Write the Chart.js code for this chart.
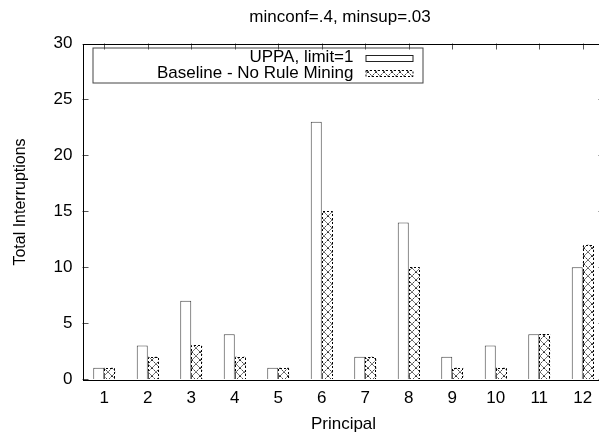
<!DOCTYPE html>
<html>
<head>
<meta charset="utf-8">
<script src="https://cdn.jsdelivr.net/npm/chart.js@4/dist/chart.umd.min.js"></script>
<style>
  html, body { margin: 0; padding: 0; background: #fff; overflow: hidden; }
  #wrap { position: absolute; left: 0; top: 0; width: 620px; height: 432px; }
</style>
</head>
<body>
<div id="wrap"><canvas id="c" width="620" height="432"></canvas></div>
<script>
// Principals on the x axis
const principals = ['1', '2', '3', '4', '5', '6', '7', '8', '9', '10', '11', '12'];
// Total interruptions per principal
const uppaLimit1 = [1, 3, 7, 4, 1, 23, 2, 14, 2, 3, 4, 10];
const baselineNoRuleMining = [1, 2, 3, 2, 1, 15, 2, 10, 1, 1, 4, 12];
// Y axis range and tick step
const yMin = 0, yMax = 30, yStep = 5;
const seriesLabels = ['UPPA, limit=1', 'Baseline - No Rule Mining'];
const chartTitle = 'minconf=.4, minsup=.03';
const xTitle = 'Principal';
const yTitle = 'Total Interruptions';

const FONT = '"Liberation Sans", Arial, Helvetica, sans-serif';
const FS = 17;

// Crossed-diagonal hatch tile used for the baseline bars
function makeHatch() {
  const n = 8;
  const t = document.createElement('canvas');
  t.width = n; t.height = n;
  const g = t.getContext('2d');
  g.fillStyle = '#fff';
  g.fillRect(0, 0, n, n);
  g.strokeStyle = '#333';
  g.lineWidth = 1;
  g.setLineDash([2, 1]);
  g.beginPath();
  g.moveTo(0, 0); g.lineTo(n, n);
  g.moveTo(n, 0); g.lineTo(0, n);
  g.stroke();
  return g.createPattern(t, 'repeat');
}
const hatch = makeHatch();

// Frame, inward tick marks, dashed outlines for hatched bars, titles and the boxed key
const gnuplotStyle = {
  id: 'gnuplotStyle',
  afterDatasetsDraw(chart) {
    const ctx = chart.ctx;
    const a = chart.chartArea;
    const xs = chart.scales.x, ys = chart.scales.y;

    // dashed outlines on the hatched bars
    ctx.save();
    ctx.strokeStyle = '#000';
    ctx.lineWidth = 1;
    ctx.setLineDash([2, 2]);
    chart.getDatasetMeta(1).data.forEach(el => {
      const p = el.getProps(['x', 'y', 'base', 'width'], true);
      const l = Math.round(p.x - p.width / 2) + 0.5;
      const r = Math.round(p.x + p.width / 2) - 0.5;
      const t = Math.round(p.y) + 0.5;
      const b = Math.round(p.base);
      ctx.beginPath();
      ctx.moveTo(l, b); ctx.lineTo(l, t); ctx.lineTo(r, t); ctx.lineTo(r, b);
      ctx.stroke();
    });
    ctx.restore();

    // inward ticks
    ctx.save();
    ctx.strokeStyle = '#555';
    ctx.lineWidth = 1;
    ctx.beginPath();
    ys.ticks.forEach((tk, i) => {
      const y = Math.round(ys.getPixelForTick(i)) + 0.5;
      ctx.moveTo(a.left, y); ctx.lineTo(a.left + 6, y);
      ctx.moveTo(a.right, y); ctx.lineTo(a.right - 6, y);
    });
    xs.ticks.forEach((tk, i) => {
      const x = Math.round(xs.getPixelForTick(i)) + 0.5;
      ctx.moveTo(x, a.top); ctx.lineTo(x, a.top + 6);
      ctx.moveTo(x, a.bottom); ctx.lineTo(x, a.bottom - 6);
    });
    ctx.stroke();
    ctx.restore();

    // frame
    ctx.save();
    ctx.strokeStyle = '#000';
    ctx.lineWidth = 1;
    ctx.strokeRect(Math.round(a.left) + 0.5, Math.round(a.top) + 0.5,
                   Math.round(a.right - a.left), Math.round(a.bottom - a.top));
    ctx.restore();

    // titles
    ctx.save();
    ctx.fillStyle = '#000';
    ctx.textAlign = 'center';
    ctx.textBaseline = 'middle';
    ctx.font = FS + 'px ' + FONT;
    ctx.fillText(chartTitle, 340, 17);
    ctx.fillText(xTitle, (a.left + a.right) / 2, 424);
    ctx.translate(21, 202);
    ctx.rotate(-Math.PI / 2);
    ctx.font = '16px ' + FONT;
    ctx.fillText(yTitle, 0, 0);
    ctx.restore();

    // key
    ctx.save();
    const kx0 = a.left + 10.5, ky0 = a.top + 4.5, kx1 = a.left + 340.5, ky1 = a.top + 39.5;
    ctx.strokeStyle = '#444';
    ctx.lineWidth = 1;
    ctx.strokeRect(kx0, ky0, kx1 - kx0, ky1 - ky0);
    ctx.font = FS + 'px ' + FONT;
    ctx.textAlign = 'right';
    ctx.textBaseline = 'middle';
    const rows = [a.top + 14, a.top + 29.5];
    const textRight = a.left + 271;
    const sx0 = a.left + 283.5, sw = 47;
    chart.data.datasets.forEach((ds, i) => {
      ctx.fillStyle = '#000';
      ctx.fillText(ds.label, textRight, rows[i]);
      const sy = Math.round(rows[i] - 3) + 0.5;
      if (i === 0) {
        ctx.fillStyle = '#fff';
        ctx.fillRect(sx0, sy, sw, 6);
        ctx.strokeStyle = '#222';
        ctx.setLineDash([]);
        ctx.strokeRect(sx0, sy, sw, 6);
      } else {
        ctx.fillStyle = hatch;
        ctx.fillRect(sx0, sy, sw, 6);
        ctx.strokeStyle = '#000';
        ctx.setLineDash([2, 2]);
        ctx.strokeRect(sx0, sy, sw, 6);
      }
    });
    ctx.restore();
  }
};

new Chart(document.getElementById('c'), {
  type: 'bar',
  data: {
    labels: principals,
    datasets: [
      {
        label: seriesLabels[0],
        data: uppaLimit1,
        backgroundColor: '#fff',
        borderColor: '#444',
        borderWidth: 1,
        borderSkipped: 'start'
      },
      {
        label: seriesLabels[1],
        data: baselineNoRuleMining,
        backgroundColor: hatch,
        borderWidth: 0
      }
    ]
  },
  options: {
    responsive: false,
    animation: false,
    devicePixelRatio: 1,
    categoryPercentage: 0.506,
    barPercentage: 1,
    layout: { padding: { left: 0, right: 15.5, top: 43.5, bottom: 0 } },
    plugins: {
      legend: { display: false },
      tooltip: { enabled: false },
      title: { display: false }
    },
    scales: {
      x: {
        grid: { display: false, drawTicks: false },
        border: { display: false },
        ticks: { color: '#000', font: { family: FONT, size: FS }, padding: 9, maxRotation: 0 },
        afterFit(s) { s.height = 53; }
      },
      y: {
        min: yMin, max: yMax,
        grid: { display: false, drawTicks: false },
        border: { display: false },
        ticks: { stepSize: yStep, color: '#000', font: { family: FONT, size: FS }, padding: 10 },
        afterFit(s) { s.width = 82.5; }
      }
    }
  },
  plugins: [gnuplotStyle]
});
</script>
</body>
</html>
